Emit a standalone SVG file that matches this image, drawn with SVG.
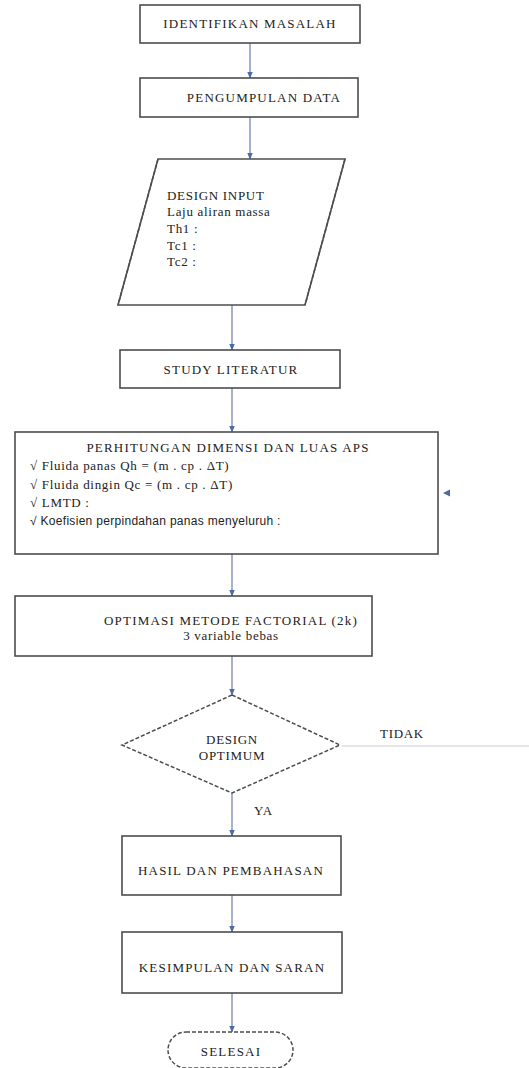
<svg xmlns="http://www.w3.org/2000/svg" width="529" height="1068" viewBox="0 0 529 1068">
<style>
.box{fill:#fff;stroke:#4d4d4d;stroke-width:1.6}
.dsh{fill:#fff;stroke:#4d4d4d;stroke-width:1.5;stroke-dasharray:4 2}
.ln{stroke:#6b7fa8;stroke-width:1.2;fill:none}
.t{font-family:"Liberation Serif",serif;font-size:13px;letter-spacing:1.2px;fill:#222}
.s{font-family:"Liberation Serif",serif;font-size:13px;letter-spacing:0.7px;fill:#222}
.ss{font-family:"Liberation Sans",sans-serif;font-size:12px;letter-spacing:0.3px;fill:#222}
.c{text-anchor:middle}
</style>
<defs>
<marker id="ah" viewBox="0 0 10 10" refX="9" refY="5" markerWidth="6" markerHeight="6" orient="auto">
<path d="M0,1 L10,5 L0,9 z" fill="#4a6aa8"/>
</marker>
</defs>
<g id="connectors">
<line class="ln" x1="250" y1="43" x2="250" y2="78" marker-end="url(#ah)"/>
<line class="ln" x1="250" y1="117" x2="250" y2="159" marker-end="url(#ah)"/>
<line class="ln" x1="232" y1="305" x2="232" y2="350" marker-end="url(#ah)"/>
<line class="ln" x1="232" y1="388" x2="232" y2="432" marker-end="url(#ah)"/>
<line class="ln" x1="232" y1="554" x2="232" y2="596" marker-end="url(#ah)"/>
<line class="ln" x1="232" y1="656" x2="232" y2="695" marker-end="url(#ah)"/>
<line class="ln" x1="232" y1="793" x2="232" y2="836" marker-end="url(#ah)"/>
<line class="ln" x1="232" y1="895" x2="232" y2="932" marker-end="url(#ah)"/>
<line class="ln" x1="232" y1="993" x2="232" y2="1032" marker-end="url(#ah)"/>
<line x1="342" y1="746" x2="529" y2="746" stroke="#c8ccd4" stroke-width="1.2"/>
<path d="M443,493 L450,489.5 L450,496.5 z" fill="#4a6aa8"/>
<text class="s" x="380" y="738">TIDAK</text>
<text class="s" x="254" y="815">YA</text>
</g>
<g id="n1">
<rect class="box" x="140" y="5" width="220" height="38"/>
<text class="t c" x="250" y="28">IDENTIFIKAN MASALAH</text>
</g>
<g id="n2">
<rect class="box" x="140" y="78" width="218" height="39"/>
<text class="t c" x="264" y="102">PENGUMPULAN DATA</text>
</g>
<g id="n3">
<polygon class="box" points="158,159 345,159 305,305 118,305"/>
<path class="dsh" d="M158,159 L118,305 M345,159 L305,305" fill="none"/>
<text class="s" x="167" y="200">DESIGN INPUT</text>
<text class="s" x="167" y="216">Laju aliran massa</text>
<text class="s" x="167" y="233">Th1 :</text>
<text class="s" x="167" y="250">Tc1 :</text>
<text class="s" x="167" y="266">Tc2 :</text>
</g>
<g id="n4">
<rect class="box" x="120" y="350" width="220" height="38"/>
<text class="t c" x="231" y="374">STUDY LITERATUR</text>
</g>
<g id="n5">
<rect class="box" x="15" y="432" width="423" height="122"/>
<text class="t c" x="228" y="452">PERHITUNGAN DIMENSI DAN LUAS APS</text>
<text class="s" x="30" y="470">√ Fluida panas Qh = (m . cp . ΔT)</text>
<text class="s" x="30" y="489">√ Fluida dingin  Qc = (m . cp . ΔT)</text>
<text class="s" x="30" y="507">√ LMTD :</text>
<text class="ss" x="30" y="525">√ Koefisien perpindahan panas menyeluruh :</text>
</g>
<g id="n6">
<rect class="box" x="15" y="596" width="357" height="60"/>
<text class="t c" x="231" y="625">OPTIMASI METODE FACTORIAL (2k)</text>
<text class="s c" x="231" y="640">3 variable bebas</text>
</g>
<g id="n7">
<polygon class="dsh" points="232,695 340,745 232,793 122,745"/>
<text class="s c" x="232" y="744">DESIGN</text>
<text class="s c" x="232" y="760">OPTIMUM</text>
</g>
<g id="n8">
<rect class="box" x="122" y="836" width="219" height="59"/>
<text class="t c" x="231" y="875">HASIL DAN PEMBAHASAN</text>
</g>
<g id="n9">
<rect class="box" x="122" y="932" width="220" height="61"/>
<text class="t c" x="232" y="972">KESIMPULAN DAN SARAN</text>
</g>
<g id="n10">
<rect class="dsh" x="168" y="1032" width="125" height="36" rx="18"/>
<text class="t c" x="231" y="1056">SELESAI</text>
</g>
</svg>
